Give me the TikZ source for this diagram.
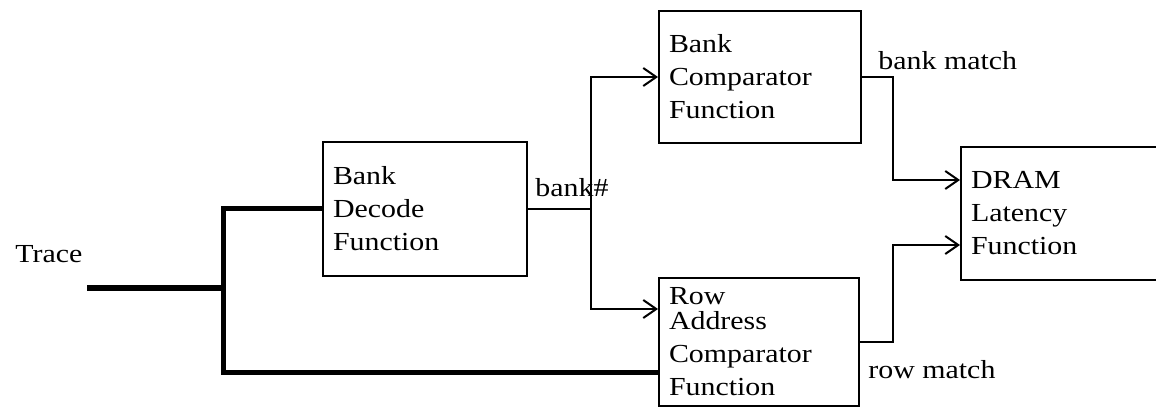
\documentclass[tikz,border=0pt]{standalone}
\usepackage{fontspec}
\setmainfont{Liberation Serif}[FakeStretch=1.15]
\usetikzlibrary{arrows.meta}
\begin{document}
\begin{tikzpicture}[x=0.5pt,y=-0.5pt,
  every node/.style={font=\fontsize{13pt}{16.5pt}\selectfont},
  block/.style={draw,line width=1pt,align=left,anchor=center,inner xsep=5pt,
    inner ysep=0pt,text width=#1},
  block/.default=85pt,
  wire/.style={line width=1pt},
  bus/.style={line width=2.5pt,line join=miter},
  tip/.style={-{Straight Barb[length=6.5pt,width=9pt,line width=1pt]}},
  lbl/.style={anchor=base west,inner sep=0pt}]
\useasboundingbox (0,0) rectangle (1156,411);

% function blocks
\node[block=92pt,minimum width=102pt,minimum height=67pt] (dec) at (425,209)
  {Bank\\Decode\\Function};
\node[block=91pt,minimum width=101pt,minimum height=66pt] (bcmp) at (760,77)
  {Bank\\Comparator\\Function};
\node[block=90pt,minimum width=100pt,minimum height=64pt] (rcmp) at (759,342)
  {Row\\[-4pt]Address\\Comparator\\Function};
\node[block=110pt,minimum width=120pt,minimum height=66.5pt] (dram) at (1081,213.5)
  {DRAM\\Latency\\Function};

% labels
\node[lbl] (trace) at (15,263) {Trace};
\node[lbl] (bnum) at (535,197) {bank\#};
\node[lbl] (bmatch) at (878,70) {bank match};
\node[lbl] (rmatch) at (868,378) {row match};

% trace bus
\coordinate (tin) at (87,288);
\coordinate (tj) at (223,288);
\coordinate (bl) at (223,372);
\draw[bus] (tin) -- (tj);
\draw[bus] (dec.west) -| (bl) -- (bl -| rcmp.west);

% bank number fan-out
\coordinate (bj) at (591,209);
\draw[wire] (dec.east) -- (bj);
\draw[wire,tip] (bj) |- (bcmp.west);
\draw[wire,tip] (bj) |- ([yshift=16.5pt]rcmp.west);

% match signals into the latency block
\draw[wire,tip] (bcmp.east) -- ++(31,0) |- ([yshift=16.75pt]dram.west);
\draw[wire,tip] (rcmp.east) -- ++(33,0) |- ([yshift=-15.75pt]dram.west);
\end{tikzpicture}
\end{document}
